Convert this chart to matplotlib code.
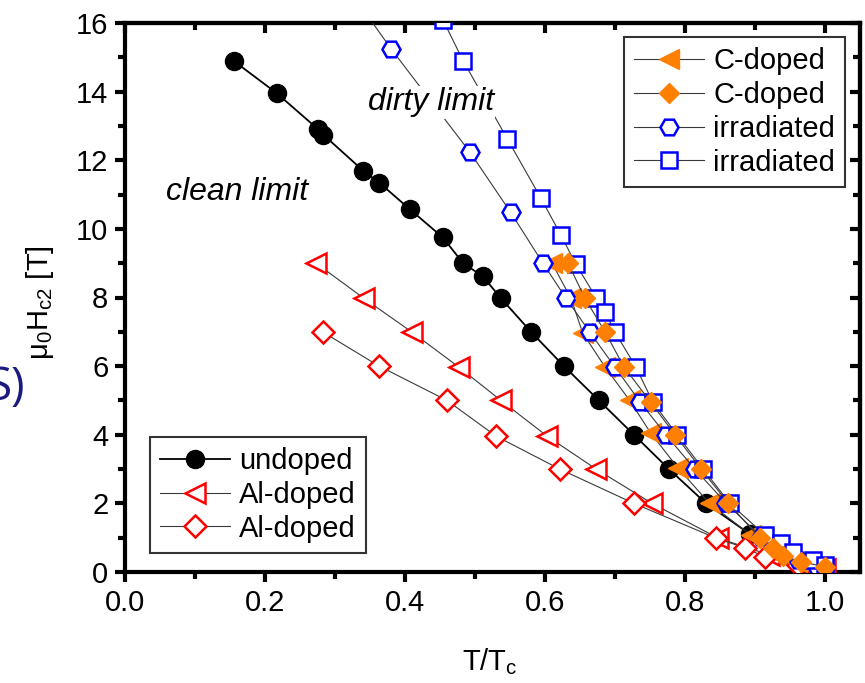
import matplotlib
matplotlib.use("Agg")
import matplotlib.pyplot as plt
from matplotlib.ticker import MultipleLocator

plt.rcParams['font.family'] = ['Liberation Sans', 'DejaVu Sans']
plt.rcParams['mathtext.default'] = 'regular'

# --- data (T/Tc, mu0Hc2 in T) ---
undoped_x = [0.155, 0.217, 0.276, 0.283, 0.340, 0.363, 0.407, 0.454, 0.483, 0.511,
             0.537, 0.580, 0.627, 0.677, 0.727, 0.777, 0.830, 0.893, 0.940, 0.990]
undoped_y = [14.9, 13.95, 12.9, 12.75, 11.7, 11.35, 10.57, 9.75, 9.0, 8.62,
             7.98, 7.0, 6.0, 5.0, 4.0, 3.0, 2.0, 1.1, 0.5, 0.1]

al_tri_x = [0.273, 0.341, 0.410, 0.477, 0.537, 0.603, 0.673, 0.753, 0.847, 0.920, 0.970, 1.0]
al_tri_y = [9.0, 7.98, 6.99, 5.97, 5.0, 3.96, 3.0, 2.0, 0.99, 0.5, 0.2, 0.1]

al_dia_x = [0.283, 0.363, 0.460, 0.530, 0.621, 0.727, 0.844, 0.886, 0.914, 0.961, 0.994]
al_dia_y = [6.99, 6.0, 5.0, 3.96, 3.0, 2.0, 0.99, 0.7, 0.44, 0.2, 0.12]

c_tri_x = [0.610, 0.637, 0.654, 0.686, 0.721, 0.751, 0.790, 0.835, 0.894, 0.926, 0.960, 0.990]
c_tri_y = [9.0, 7.98, 6.96, 5.97, 5.0, 4.05, 3.03, 2.0, 1.08, 0.7, 0.28, 0.1]

c_dia_x = [0.633, 0.657, 0.686, 0.713, 0.751, 0.786, 0.823, 0.862, 0.907, 0.926, 0.940, 0.966, 1.0]
c_dia_y = [9.0, 7.98, 6.99, 5.97, 4.95, 3.99, 3.0, 2.0, 0.99, 0.7, 0.47, 0.3, 0.15]

irr_hex_x = [0.340, 0.380, 0.493, 0.551, 0.597, 0.630, 0.664, 0.700, 0.736, 0.773,
             0.814, 0.859, 0.909, 0.961, 0.990]
irr_hex_y = [16.4, 15.25, 12.23, 10.48, 9.0, 7.98, 6.99, 5.97, 4.95, 3.99,
             3.0, 2.0, 1.02, 0.35, 0.1]

irr_sq_x = [0.454, 0.483, 0.546, 0.594, 0.623, 0.644, 0.673, 0.686, 0.700, 0.730,
            0.754, 0.789, 0.826, 0.864, 0.914, 0.937, 0.954, 0.983, 1.0]
irr_sq_y = [16.1, 14.9, 12.63, 10.9, 9.81, 8.97, 8.0, 7.57, 6.99, 5.97,
            4.95, 3.99, 3.0, 2.0, 1.08, 0.84, 0.58, 0.35, 0.2]

ORANGE = '#FF7F00'
BLUE = '#0000FF'
RED = '#FF0000'
LINE = '#3a3a3a'

fig = plt.figure(figsize=(8.65, 6.83), dpi=100)
ax = fig.add_axes([125 / 865, 1 - 572 / 683, 735 / 865, 549 / 683])

h_und, = ax.plot(undoped_x, undoped_y, '-o', color='black', lw=1.3, ms=13,
                 mfc='black', mec='black', label='undoped', zorder=3)
h_alt, = ax.plot(al_tri_x, al_tri_y, '-<', color=LINE, lw=0.8, ms=14, mfc='white',
                 mec=RED, mew=1.8, label='Al-doped', zorder=3)
h_ald, = ax.plot(al_dia_x, al_dia_y, '-D', color=LINE, lw=0.8, ms=11, mfc='white',
                 mec=RED, mew=1.8, label='Al-doped', zorder=3)
h_ct, = ax.plot(c_tri_x, c_tri_y, '-<', color=LINE, lw=0.8, ms=14, mfc=ORANGE,
                mec=ORANGE, label='C-doped', zorder=4)
h_ih, = ax.plot(irr_hex_x, irr_hex_y, '-H', color=LINE, lw=0.8, ms=13, mfc='white',
                mec=BLUE, mew=1.8, label='irradiated', zorder=4)
h_is, = ax.plot(irr_sq_x, irr_sq_y, '-s', color=LINE, lw=0.8, ms=11, mfc='white',
                mec=BLUE, mew=1.8, label='irradiated', zorder=4)
h_cd, = ax.plot(c_dia_x, c_dia_y, '-D', color=LINE, lw=0.8, ms=10, mfc=ORANGE,
                mec=ORANGE, label='C-doped', zorder=5)

ax.set_xlim(0.0, 1.05)
ax.set_ylim(0, 16)
ax.xaxis.set_major_locator(MultipleLocator(0.2))
ax.xaxis.set_minor_locator(MultipleLocator(0.1))
ax.yaxis.set_major_locator(MultipleLocator(2))
ax.yaxis.set_minor_locator(MultipleLocator(1))
ax.xaxis.set_major_formatter(matplotlib.ticker.FormatStrFormatter('%.1f'))

for s in ax.spines.values():
    s.set_linewidth(3)
ax.tick_params(which='major', direction='out', length=7, width=3, labelsize=21, pad=5)
ax.tick_params(which='minor', direction='out', length=5, width=3)

# inward ticks on the top and right axes
secx = ax.secondary_xaxis('top')
secx.xaxis.set_major_locator(MultipleLocator(0.2))
secx.xaxis.set_minor_locator(MultipleLocator(0.1))
secx.tick_params(which='major', direction='in', length=7, width=3, labeltop=False)
secx.tick_params(which='minor', direction='in', length=5, width=3)
secx.spines['top'].set_linewidth(3)
secy = ax.secondary_yaxis('right')
secy.yaxis.set_major_locator(MultipleLocator(2))
secy.yaxis.set_minor_locator(MultipleLocator(1))
secy.tick_params(which='major', direction='in', length=7, width=3, labelright=False)
secy.tick_params(which='minor', direction='in', length=5, width=3)
secy.spines['right'].set_linewidth(3)

ax.set_xlabel('T/T$_c$', fontsize=21)
ax.xaxis.set_label_coords(0.497, -0.135)
ax.set_ylabel('μ$_0$H$_{c2}$ [T]', fontsize=21)
ax.yaxis.set_label_coords(-0.094, 0.49)

ax.text(0.0586, 10.83, 'clean limit', fontsize=23, style='italic', va='baseline', zorder=6)
ax.text(0.347, 13.45, 'dirty limit', fontsize=23, style='italic', va='baseline', zorder=6,
        bbox=dict(facecolor='white', edgecolor='none', pad=1))

leg_kw = dict(fontsize=21, frameon=True, fancybox=False, framealpha=1,
              edgecolor='#333333', handlelength=2.4, handletextpad=0.3,
              labelspacing=0.2, borderpad=0.35, borderaxespad=0)
leg1 = ax.legend(handles=[h_ct, h_cd, h_ih, h_is], loc='upper right',
                 bbox_to_anchor=(0.98, 0.9745), **leg_kw)
leg1.get_frame().set_linewidth(1.5)
ax.add_artist(leg1)
leg2 = ax.legend(handles=[h_und, h_alt, h_ald], loc='lower left',
                 bbox_to_anchor=(0.034, 0.035), **leg_kw)
leg2.get_frame().set_linewidth(1.5)

# cropped fragment at the left edge of the original image
fig.text(25 / 865, 1 - 400 / 683, 'S)', fontsize=33, color='#1a1a80',
         family=['Open Sans', 'DejaVu Sans'], ha='right', va='baseline')

fig.savefig('out.png', dpi=100)
plt.close(fig)
